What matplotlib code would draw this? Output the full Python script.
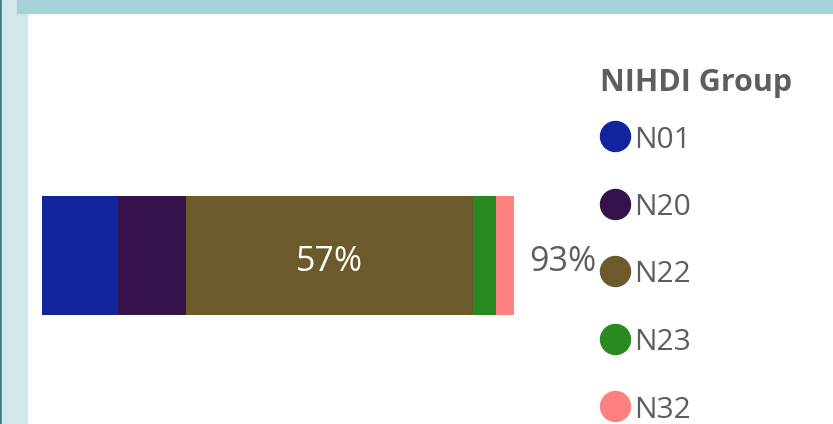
import matplotlib
matplotlib.use("Agg")
import matplotlib.pyplot as plt
from matplotlib.patches import Rectangle

categories = ["N01", "N20", "N22", "N23", "N32"]
values = [15.0, 13.4, 56.6, 4.5, 3.5]
colors = ["#12239E", "#35124A", "#6B5A2A", "#2A8A22", "#FF8080"]
legend_title = "NIHDI Group"

W, H = 833, 424
fig = plt.figure(figsize=(W / 100, H / 100), dpi=100)
fig.patch.set_facecolor("white")
FONT = ["Open Sans", "DejaVu Sans"]
TXT = "#605E5C"

def px(x0, y0, w, h):
    return [x0 / W, 1 - (y0 + h) / H, w / W, h / H]

# frame decorations
fig.patches.append(Rectangle((0, 0), 2 / W, 1, transform=fig.transFigure, color="#3B7A84", zorder=0))
fig.patches.append(Rectangle((2 / W, 0), 25 / W, 1, transform=fig.transFigure, color="#D1E8EB", zorder=0))
fig.patches.append(Rectangle((17 / W, 1 - 13 / H), 1, 13 / H, transform=fig.transFigure, color="#A7D1D8", zorder=0))

ax = fig.add_axes(px(42, 196, 548, 119))
ax.set_xlim(0, 548 / (472 / 93))
ax.set_ylim(-0.5, 0.5)
left = 0
for c, v, col in zip(categories, values, colors):
    ax.barh(0, v, left=left, height=1.0, color=col, edgecolor="none")
    left += v
ax.axis("off")

# data labels
big = values[categories.index("N22")]
start = sum(values[:categories.index("N22")])
ax.text(start + big / 2, -0.13, f"{round(big)}%", ha="center", va="baseline",
        color="white", fontsize=24.5, family=FONT)
total = sum(values)
ax.text(total + 3.1, -0.13, f"{round(total)}%", ha="left", va="baseline",
        color=TXT, fontsize=24.5, family=FONT, clip_on=False)

# legend (manual, Power BI style)
lax = fig.add_axes([590 / W, 0, 243 / W, 1])
lax.set_xlim(590, 833)
lax.set_ylim(H, 0)
lax.axis("off")
lax.text(600, 91, legend_title, ha="left", va="baseline", color=TXT,
         fontsize=22, fontweight="bold", family=FONT)
for i, (c, col) in enumerate(zip(categories, colors)):
    yc = 136 + i * 67.5
    lax.plot([615], [yc], marker="o", markersize=21.6, color=col,
             markeredgecolor=col, linestyle="none", clip_on=False)
    lax.text(634, yc + 11.5, c, ha="left", va="baseline", color=TXT,
             fontsize=21.6, family=FONT)

fig.savefig("out.png", dpi=100)
